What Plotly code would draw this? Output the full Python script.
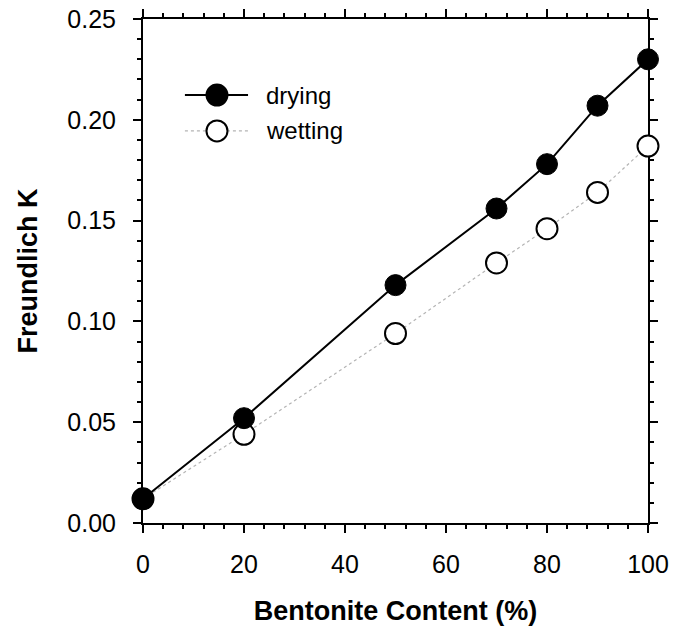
import plotly.graph_objects as go

# Bentonite content (%) and fitted Freundlich K for each branch
bentonite = [0, 20, 50, 70, 80, 90, 100]
k_drying = [0.012, 0.052, 0.118, 0.156, 0.178, 0.207, 0.230]
k_wetting = [0.012, 0.044, 0.094, 0.129, 0.146, 0.164, 0.187]

x_ticks = [0, 20, 40, 60, 80, 100]
y_ticks = [0.00, 0.05, 0.10, 0.15, 0.20, 0.25]
y_tick_labels = ["0.00", "0.05", "0.10", "0.15", "0.20", "0.25"]

series_names = ["drying", "wetting"]

FONT = "Liberation Sans, Arial, sans-serif"
MARKER_SIZE = 21

fig = go.Figure()

fig.add_trace(go.Scatter(
    x=bentonite, y=k_wetting, name=series_names[1], mode="lines+markers",
    line=dict(color="#b4b4b4", width=1.2, dash="dot"),
    marker=dict(symbol="circle", size=MARKER_SIZE, color="white",
                line=dict(color="black", width=2)),
    cliponaxis=False, showlegend=False,
))
fig.add_trace(go.Scatter(
    x=bentonite, y=k_drying, name=series_names[0], mode="lines+markers",
    line=dict(color="black", width=2),
    marker=dict(symbol="circle", size=MARKER_SIZE, color="black",
                line=dict(color="black", width=1)),
    cliponaxis=False, showlegend=False,
))

axis_common = dict(
    showline=True, linecolor="black", linewidth=2,
    mirror="allticks", ticks="outside", ticklen=8, tickwidth=2,
    tickcolor="black", showgrid=False, zeroline=False,
    layer="below traces", automargin=False,
    tickfont=dict(family=FONT, size=25, color="black"),
)

fig.update_xaxes(
    range=[0, 100], tickvals=x_ticks,
    ticklabelstandoff=10,
    minor=dict(dtick=4, ticks="outside", ticklen=4, tickwidth=2,
               tickcolor="black", showgrid=False),
    title=dict(text="<b>Bentonite Content (%)</b>",
               font=dict(family=FONT, size=27, color="black"), standoff=24),
    **axis_common,
)
fig.update_yaxes(
    range=[0, 0.25], tickvals=y_ticks, ticktext=y_tick_labels,
    ticklabelstandoff=12,
    minor=dict(dtick=0.01, ticks="outside", ticklen=4, tickwidth=2,
               tickcolor="black", showgrid=False),
    title=dict(text="<b>Freundlich K</b>",
               font=dict(family=FONT, size=27, color="black"), standoff=22),
    **axis_common,
)

# Legend key: sample line, marker and label for each series (paper coords)
legend_rows = [
    dict(name=series_names[0], y=0.849, line=dict(color="black", width=2),
         fill="black"),
    dict(name=series_names[1], y=0.778,
         line=dict(color="#b4b4b4", width=1.2, dash="dot"), fill="white"),
]
key_x0, key_x1, key_mid, text_x = 0.083, 0.208, 0.1465, 0.240
shapes, annotations = [], []
for row in legend_rows:
    shapes.append(dict(type="line", xref="paper", yref="paper",
                       x0=key_x0, x1=key_x1, y0=row["y"], y1=row["y"],
                       line=row["line"], layer="above"))
    shapes.append(dict(type="circle", xref="paper", yref="paper",
                       xsizemode="pixel", ysizemode="pixel",
                       xanchor=key_mid, yanchor=row["y"],
                       x0=-MARKER_SIZE / 2, x1=MARKER_SIZE / 2,
                       y0=-MARKER_SIZE / 2, y1=MARKER_SIZE / 2,
                       fillcolor=row["fill"],
                       line=dict(color="black", width=2), layer="above"))
    annotations.append(dict(text=row["name"], xref="paper", yref="paper",
                            x=text_x, y=row["y"], xanchor="left",
                            yanchor="middle", showarrow=False,
                            font=dict(family=FONT, size=24, color="black")))

fig.update_layout(
    width=676, height=634,
    margin=dict(l=143, r=28, t=19, b=111),
    paper_bgcolor="white", plot_bgcolor="white",
    showlegend=False,
    shapes=shapes, annotations=annotations,
)

fig.write_html("out.html")
